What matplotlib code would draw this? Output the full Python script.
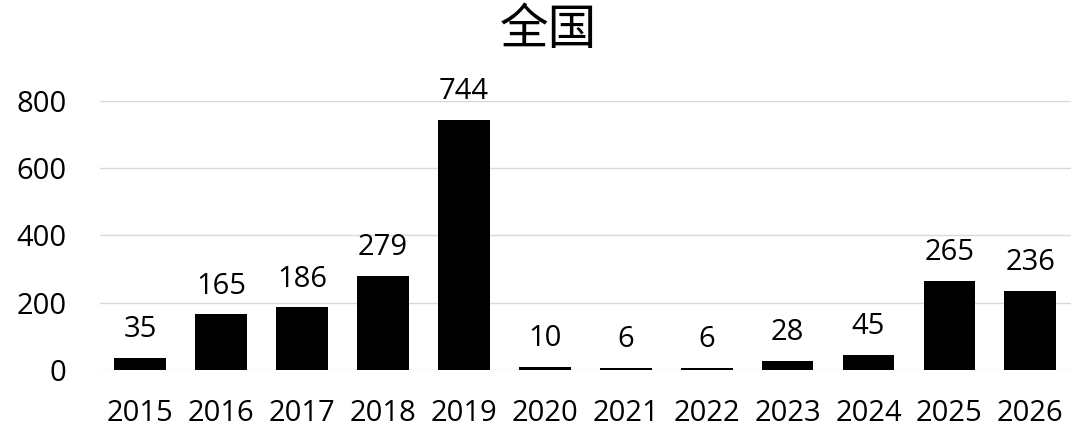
import matplotlib
matplotlib.use("Agg")
import matplotlib.pyplot as plt

plt.rcParams['font.family'] = ['Open Sans', 'Noto Sans CJK SC', 'DejaVu Sans']

title = "全国"
years = ["2015", "2016", "2017", "2018", "2019", "2020", "2021", "2022", "2023", "2024", "2025", "2026"]
values = [35, 165, 186, 279, 744, 10, 6, 6, 28, 45, 265, 236]
yticks = [0, 200, 400, 600, 800]

fig = plt.figure(figsize=(10.74, 4.32), dpi=100)
ax = fig.add_axes([0.093, 0.1435, 0.904, 0.623])
x = list(range(len(years)))
ax.bar(x, values, width=0.64, color="black", zorder=3)
ax.set_xlim(-0.5, len(years) - 0.5)
ax.set_ylim(0, 800)
ax.set_yticks(yticks)
ax.set_xticks(x)
ax.set_xticklabels(years)
ax.tick_params(axis='both', length=0, labelsize=21)
ax.tick_params(axis='x', pad=21)
ax.tick_params(axis='y', pad=24)
ax.grid(axis='y', color='#d9d9d9', linewidth=1, zorder=0)
for s in ax.spines.values():
    s.set_visible(False)
for xi, v in zip(x, values):
    ax.annotate(str(v), (xi, v), xytext=(0, 10), textcoords='offset points',
                ha='center', va='bottom', fontsize=21, clip_on=False)
fig.text(0.511, 0.93, title, ha='center', va='center', fontsize=35,
         family=['Noto Sans CJK SC', 'DejaVu Sans'])
fig.savefig("out.png", dpi=100)
